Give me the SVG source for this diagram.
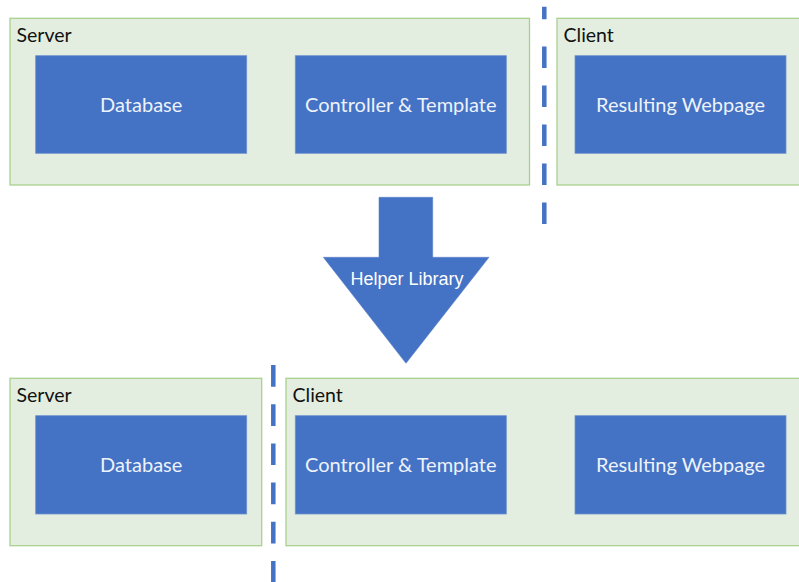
<svg xmlns="http://www.w3.org/2000/svg" width="799" height="582" viewBox="0 0 799 582">
<style>
.zone{fill:#e3eee0;stroke:#a9d18e;stroke-width:1.3}
.box{fill:#4472c4;stroke:#6f92d0;stroke-width:0.8}
.zl{font-family:Lato,"Open Sans",sans-serif;font-size:19.5px;fill:#111}
.bl{font-family:Lato,"Open Sans",sans-serif;font-size:20px;fill:#eef2fa;text-anchor:middle}
.div{stroke:#4472c4;stroke-width:4.5;fill:none}
</style>
<rect width="799" height="582" fill="#ffffff"/>
<g id="top-server">
<rect class="zone" x="10" y="18.3" width="519.5" height="166.7"/>
<text class="zl" x="16.5" y="42.3">Server</text>
</g>
<g id="top-client">
<rect class="zone" x="557" y="18.3" width="250" height="166.7"/>
<text class="zl" x="563.5" y="42.3">Client</text>
</g>
<g id="top-database">
<rect class="box" x="35.7" y="55.7" width="211" height="97.6"/>
<text class="bl" x="141.2" y="112.3">Database</text>
</g>
<g id="top-controller">
<rect class="box" x="295.3" y="55.7" width="211" height="97.6"/>
<text class="bl" x="400.8" y="112.3">Controller &amp; Template</text>
</g>
<g id="top-webpage">
<rect class="box" x="575" y="55.7" width="211" height="97.6"/>
<text class="bl" x="680.5" y="112.3">Resulting Webpage</text>
</g>
<g id="bottom-server">
<rect class="zone" x="10" y="378.3" width="251.7" height="167.4"/>
<text class="zl" x="16.5" y="402.3">Server</text>
</g>
<g id="bottom-client">
<rect class="zone" x="286" y="378.3" width="521" height="167.4"/>
<text class="zl" x="292.5" y="402.3">Client</text>
</g>
<g id="bottom-database">
<rect class="box" x="35.7" y="415.7" width="211" height="98.3"/>
<text class="bl" x="141.2" y="472.3">Database</text>
</g>
<g id="bottom-controller">
<rect class="box" x="295.3" y="415.7" width="211" height="98.3"/>
<text class="bl" x="400.8" y="472.3">Controller &amp; Template</text>
</g>
<g id="bottom-webpage">
<rect class="box" x="575" y="415.7" width="211" height="98.3"/>
<text class="bl" x="680.5" y="472.3">Resulting Webpage</text>
</g>
<g id="connectors">
<line class="div" x1="544.3" y1="6.7" x2="544.3" y2="226" stroke-dasharray="12.5 27.3 21.5 17.5 21.5 17.5 21.5 17.5 21.5 17.5 21.5 17.5"/>
<line class="div" x1="273.3" y1="365" x2="273.3" y2="582" stroke-dasharray="21.7 17.5"/>
<g id="helper-arrow">
<polygon points="379,197.3 432.7,197.3 432.7,257.3 489,257.3 406,363.3 323.3,257.3 379,257.3" fill="#4472c4" stroke="#5a82c9" stroke-width="0.6"/>
<text x="407" y="285" font-family="'Liberation Sans',Arial,sans-serif" font-size="18px" fill="#ffffff" text-anchor="middle">Helper Library</text>
</g>
</g>
</svg>
